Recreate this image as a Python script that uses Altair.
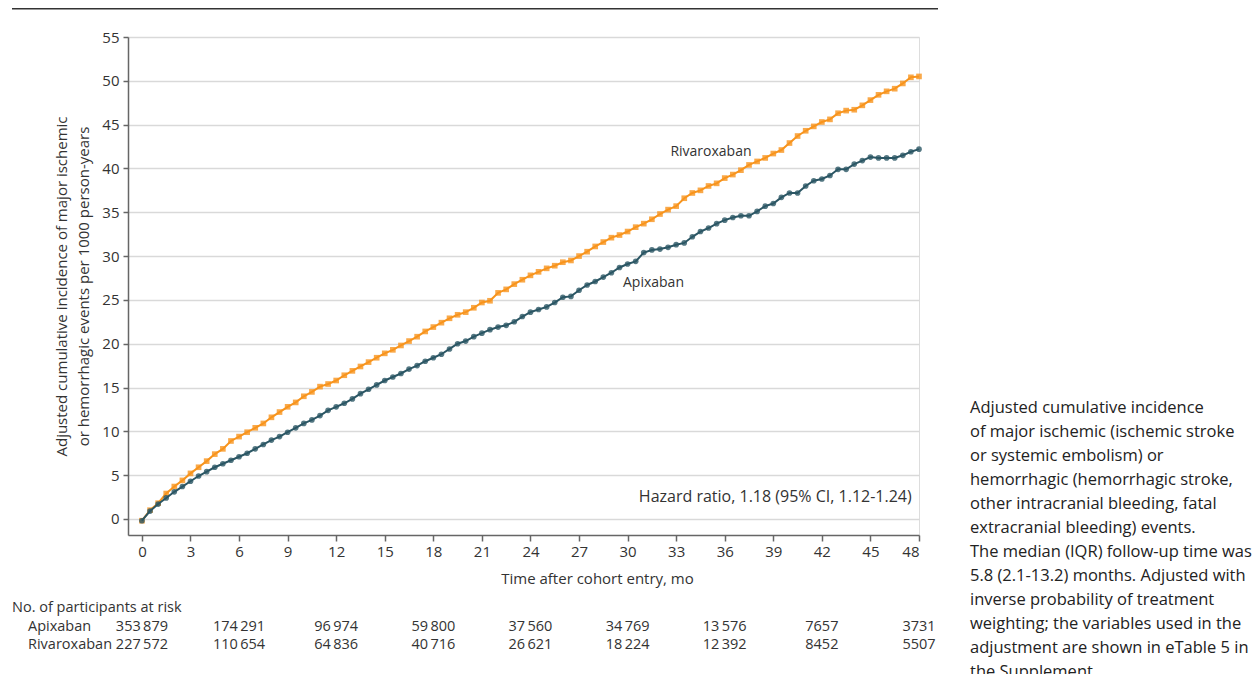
import altair as alt
import pandas as pd

# ---------------- data ----------------
months = [0, 0.5, 1, 1.5, 2, 2.5, 3, 3.5, 4, 4.5,
          5, 5.5, 6, 6.5, 7, 7.5, 8, 8.5, 9, 9.5,
          10, 10.5, 11, 11.5, 12, 12.5, 13, 13.5, 14, 14.5,
          15, 15.5, 16, 16.5, 17, 17.5, 18, 18.5, 19, 19.5,
          20, 20.5, 21, 21.5, 22, 22.5, 23, 23.5, 24, 24.5,
          25, 25.5, 26, 26.5, 27, 27.5, 28, 28.5, 29, 29.5,
          30, 30.5, 31, 31.5, 32, 32.5, 33, 33.5, 34, 34.5,
          35, 35.5, 36, 36.5, 37, 37.5, 38, 38.5, 39, 39.5,
          40, 40.5, 41, 41.5, 42, 42.5, 43, 43.5, 44, 44.5,
          45, 45.5, 46, 46.5, 47, 47.5, 48]

apixaban = [-0.2, 0.9, 1.7, 2.4, 3.1, 3.7, 4.3, 4.9, 5.4, 5.9,
            6.3, 6.7, 7.1, 7.5, 8.0, 8.5, 9.0, 9.4, 9.9, 10.4,
            10.9, 11.3, 11.8, 12.4, 12.8, 13.2, 13.7, 14.3, 14.8, 15.3,
            15.8, 16.2, 16.6, 17.1, 17.5, 18.0, 18.4, 18.8, 19.4, 20.0,
            20.3, 20.8, 21.2, 21.6, 21.9, 22.1, 22.5, 23.1, 23.6, 23.9,
            24.2, 24.7, 25.3, 25.4, 26.1, 26.7, 27.1, 27.6, 28.1, 28.7,
            29.1, 29.4, 30.4, 30.7, 30.8, 31.0, 31.3, 31.5, 32.2, 32.8,
            33.2, 33.7, 34.1, 34.4, 34.6, 34.6, 35.1, 35.7, 36.0, 36.7,
            37.2, 37.2, 38.0, 38.6, 38.8, 39.2, 39.9, 39.9, 40.5, 40.9,
            41.3, 41.2, 41.2, 41.2, 41.5, 41.9, 42.2]

rivaroxaban = [-0.2, 1.0, 1.8, 2.9, 3.7, 4.4, 5.2, 5.9, 6.6, 7.4,
               8.0, 8.9, 9.4, 9.9, 10.4, 10.9, 11.6, 12.2, 12.8, 13.3,
               14.0, 14.5, 15.1, 15.4, 15.8, 16.4, 16.9, 17.4, 17.9, 18.4,
               18.9, 19.3, 19.8, 20.3, 20.8, 21.4, 21.9, 22.4, 22.9, 23.3,
               23.6, 24.1, 24.7, 24.9, 25.8, 26.2, 26.8, 27.3, 27.8, 28.2,
               28.6, 28.9, 29.3, 29.5, 30.0, 30.5, 31.1, 31.6, 32.1, 32.4,
               32.8, 33.3, 33.7, 34.2, 34.8, 35.3, 35.7, 36.6, 37.2, 37.5,
               38.0, 38.3, 38.9, 39.3, 39.8, 40.4, 40.8, 41.2, 41.7, 42.1,
               42.9, 43.7, 44.3, 44.8, 45.3, 45.6, 46.3, 46.6, 46.7, 47.2,
               47.8, 48.4, 48.8, 49.1, 49.7, 50.4, 50.5]

risk_months = [0, 6, 12, 18, 24, 30, 36, 42, 48]
risk_apixaban = ["353\u2009879", "174\u2009291", "96\u2009974", "59\u2009800", "37\u2009560",
                 "34\u2009769", "13\u2009576", "7657", "3731"]
risk_rivaroxaban = ["227\u2009572", "110\u2009654", "64\u2009836", "40\u2009716", "26\u2009621",
                    "18\u2009224", "12\u2009392", "8452", "5507"]

series_names = ["Rivaroxaban", "Apixaban"]
series_colors = ["#F7941D", "#2B5664"]

y_title = ["Adjusted cumulative incidence of major ischemic",
           "or hemorrhagic events per 1000 person-years"]
x_title = "Time after cohort entry, mo"
hr_text = "Hazard ratio, 1.18 (95% CI, 1.12-1.24)"
risk_header = "No. of participants at risk"
caption_lines = [
    "Adjusted cumulative incidence",
    "of major ischemic (ischemic stroke",
    "or systemic embolism) or",
    "hemorrhagic (hemorrhagic stroke,",
    "other intracranial bleeding, fatal",
    "extracranial bleeding) events.",
    "The median (IQR) follow-up time was",
    "5.8 (2.1-13.2) months. Adjusted with",
    "inverse probability of treatment",
    "weighting; the variables used in the",
    "adjustment are shown in eTable 5 in",
    "the Supplement.",
]

FONT = "Open Sans"
TXT = "#333333"

df = pd.concat([
    pd.DataFrame({"month": months, "value": rivaroxaban, "drug": "Rivaroxaban"}),
    pd.DataFrame({"month": months, "value": apixaban, "drug": "Apixaban"}),
])

xscale = alt.Scale(domain=[-0.86, 48], nice=False, zero=False)
yscale = alt.Scale(domain=[-1.83, 55], nice=False, zero=False)
cscale = alt.Scale(domain=series_names, range=series_colors)

x_enc = alt.X("month:Q", scale=xscale, axis=alt.Axis(
    values=list(range(0, 49, 3)), grid=False, title=x_title,
    domainColor="#666", domainWidth=1.5, tickColor="#666", tickWidth=1.5, tickSize=6,
    labelFont=FONT, labelFontSize=15, labelColor=TXT, labelPadding=3,
    titleFont=FONT, titleFontSize=15, titleFontWeight="normal", titleColor=TXT,
    titleX=469, titleY=48, titleBaseline="alphabetic", titleAlign="center"))
y_enc = alt.Y("value:Q", scale=yscale, axis=alt.Axis(
    values=list(range(0, 56, 5)), grid=True, gridColor="#d9d9d9", gridWidth=1.5,
    title=y_title,
    domainColor="#666", domainWidth=1.5, tickColor="#666", tickWidth=1.5, tickSize=5,
    labelFont=FONT, labelFontSize=15, labelColor=TXT, labelPadding=4,
    titleFont=FONT, titleFontSize=15, titleFontWeight="normal", titleColor=TXT,
    titleLineHeight=22, titlePadding=10))

layers = []
for name, shape in [("Rivaroxaban", "square"), ("Apixaban", "circle")]:
    base = alt.Chart(df).transform_filter(alt.datum.drug == name)
    layers.append(base.mark_line(strokeWidth=2).encode(
        x=x_enc, y=y_enc,
        color=alt.Color("drug:N", scale=cscale, legend=None)))
    layers.append(base.mark_point(filled=True, size=32, opacity=0.8, shape=shape).encode(
        x=alt.X("month:Q", scale=xscale), y=alt.Y("value:Q", scale=yscale),
        color=alt.Color("drug:N", scale=cscale, legend=None)))

labels_df = pd.DataFrame({"month": [35.15, 31.6], "value": [41.9, 26.9], "t": series_names})
layers.append(alt.Chart(labels_df).mark_text(font=FONT, fontSize=14, color=TXT,
                                             align="center", baseline="middle").encode(
    x=alt.X("month:Q", scale=xscale), y=alt.Y("value:Q", scale=yscale), text="t:N"))

hr_df = pd.DataFrame({"month": [47.55], "value": [2.5], "t": [hr_text]})
layers.append(alt.Chart(hr_df).mark_text(font=FONT, fontSize=16, color=TXT,
                                         align="right", baseline="middle").encode(
    x=alt.X("month:Q", scale=xscale), y=alt.Y("value:Q", scale=yscale), text="t:N"))

# top rule
rule_df = pd.DataFrame({"k": [0]})
layers.append(alt.Chart(rule_df).mark_rule(color="#333", strokeWidth=2).encode(
    x=alt.value(-116), x2=alt.value(810), y=alt.value(-28.5)))

# at-risk table
hdr_df = pd.DataFrame({"t": [risk_header, "Apixaban", "Rivaroxaban"],
                       "k": [0, 1, 2]})
layers.append(alt.Chart(hdr_df).transform_filter(alt.datum.k == 0).mark_text(
    font=FONT, fontSize=14.5, color=TXT, align="left", baseline="middle").encode(
    x=alt.value(-116), y=alt.value(571), text="t:N"))
layers.append(alt.Chart(hdr_df).transform_filter(alt.datum.k == 1).mark_text(
    font=FONT, fontSize=14.5, color=TXT, align="left", baseline="middle").encode(
    x=alt.value(-100), y=alt.value(590), text="t:N"))
layers.append(alt.Chart(hdr_df).transform_filter(alt.datum.k == 2).mark_text(
    font=FONT, fontSize=14.5, color=TXT, align="left", baseline="middle").encode(
    x=alt.value(-100), y=alt.value(608), text="t:N"))

risk_df = pd.DataFrame({"month": risk_months, "api": risk_apixaban, "riv": risk_rivaroxaban})
layers.append(alt.Chart(risk_df).mark_text(font=FONT, fontSize=14.5, color=TXT,
                                           align="center", baseline="middle").encode(
    x=alt.X("month:Q", scale=xscale), y=alt.value(590), text="api:N"))
layers.append(alt.Chart(risk_df).mark_text(font=FONT, fontSize=14.5, color=TXT,
                                           align="center", baseline="middle").encode(
    x=alt.X("month:Q", scale=xscale), y=alt.value(608), text="riv:N"))

# caption paragraph
cap_df = pd.DataFrame({"t": ["\n".join(caption_lines)]})
layers.append(alt.Chart(cap_df).mark_text(font=FONT, fontSize=16.5, color="#222",
                                          align="left", baseline="alphabetic",
                                          lineBreak="\n", lineHeight=24).encode(
    x=alt.value(842), y=alt.value(376), text="t:N"))

chart = alt.layer(*layers).properties(
    width=791, height=498,
    autosize=alt.AutoSizeParams(type="none"),
    padding={"left": 120, "top": 29, "right": 333, "bottom": 139},
).configure_view(stroke=None).configure(background="white")

chart.save("out.html", embed_options={"renderer": "svg", "actions": False})
